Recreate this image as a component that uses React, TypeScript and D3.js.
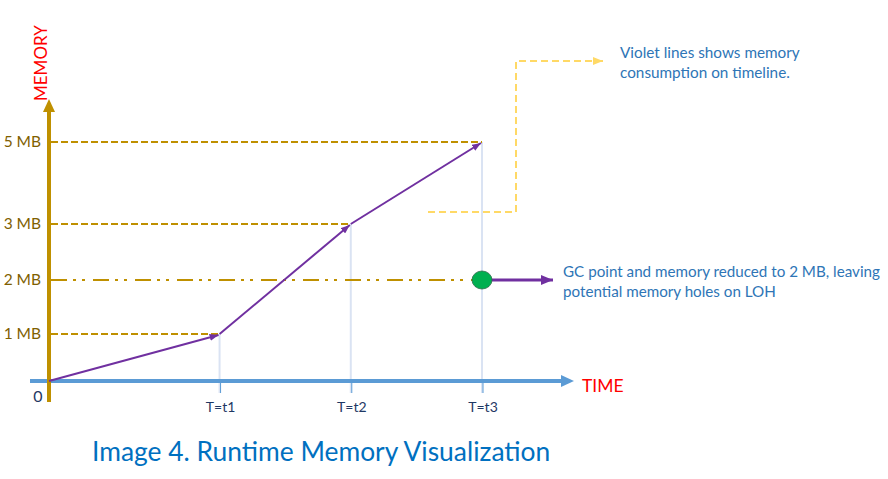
import { useEffect, useRef } from "react"
import * as d3 from "d3"

// time positions of the events (origin, t1, t2, t3)
const timePoints = [0, 1.3, 2.3, 3.3]
const timeLabels = ["T=t1", "T=t2", "T=t3"]
// memory at each event, in MB
const memoryMB = [0, 1, 3, 5]
const memTicks = [1, 2, 3, 5]
const memTickLabels = ["1 MB", "2 MB", "3 MB", "5 MB"]
const gcTime = 3.3
const gcMemory = 2

const noteLines = ["Violet lines shows memory", "consumption on timeline."]
const gcLines = ["GC point and memory reduced to 2 MB, leaving", "potential memory holes on LOH"]

const W = 888
const H = 479
const FONT = "Lato, 'Open Sans', sans-serif"

const App = () => {
  const svgRef = useRef<SVGSVGElement>(null)

  useEffect(() => {
    const svg = d3.select(svgRef.current)
    svg.selectAll("*").remove()

    const x = d3.scaleLinear().domain([0, 3.3]).range([49, 482])
    // the drawing isn't evenly spaced on the memory axis
    const y = d3.scaleLinear().domain([0, 1, 2, 3, 5]).range([381, 334, 280, 224, 142])

    const gold = "#BF9000"
    const purple = "#7030A0"
    const blue = "#5B9BD5"

    const defs = svg.append("defs")
    const marker = (id, color, w, h) =>
      defs
        .append("marker")
        .attr("id", id)
        .attr("markerUnits", "userSpaceOnUse")
        .attr("markerWidth", w)
        .attr("markerHeight", h)
        .attr("refX", w)
        .attr("refY", h / 2)
        .attr("orient", "auto")
        .append("path")
        .attr("d", `M0,0L${w},${h / 2}L0,${h}Z`)
        .attr("fill", color)
    marker("arr-purple", purple, 9, 7)
    marker("arr-purple-big", purple, 12, 10)
    marker("arr-yellow", "#FFD966", 10, 8)

    const x0 = x(0)
    const yAxisY = y(0)

    // drop lines from each point to the time axis
    memoryMB.slice(1).forEach((m, i) => {
      const t = timePoints[i + 1]
      svg
        .append("line")
        .attr("x1", x(t))
        .attr("x2", x(t))
        .attr("y1", y(m))
        .attr("y2", yAxisY + 12)
        .attr("stroke", "#DAE3F3")
        .attr("stroke-width", 2)
    })

    // dashed guides from the memory axis
    memoryMB.slice(1).forEach((m, i) => {
      svg
        .append("line")
        .attr("x1", x0 + 2)
        .attr("x2", x(timePoints[i + 1]))
        .attr("y1", y(m))
        .attr("y2", y(m))
        .attr("stroke", gold)
        .attr("stroke-width", 2)
        .attr("stroke-dasharray", "7,3")
    })

    // GC level, dash-dot-dot
    svg
      .append("line")
      .attr("x1", x0 + 2)
      .attr("x2", x(gcTime))
      .attr("y1", y(gcMemory))
      .attr("y2", y(gcMemory))
      .attr("stroke", gold)
      .attr("stroke-width", 2)
      .attr("stroke-dasharray", "16,6,3,6,3,8")

    // time axis
    svg
      .append("line")
      .attr("x1", 30)
      .attr("x2", 562)
      .attr("y1", yAxisY)
      .attr("y2", yAxisY)
      .attr("stroke", blue)
      .attr("stroke-width", 4)
    svg
      .append("path")
      .attr("d", `M561,${yAxisY - 6}L574,${yAxisY}L561,${yAxisY + 6}Z`)
      .attr("fill", blue)

    // ticks under the time axis
    timePoints.slice(1).forEach((t) => {
      svg
        .append("line")
        .attr("x1", x(t) + 1)
        .attr("x2", x(t) + 1)
        .attr("y1", yAxisY)
        .attr("y2", yAxisY + 12)
        .attr("stroke", blue)
        .attr("stroke-width", 1)
    })

    // memory axis
    svg
      .append("line")
      .attr("x1", x0)
      .attr("x2", x0)
      .attr("y1", 402)
      .attr("y2", 110)
      .attr("stroke", gold)
      .attr("stroke-width", 4)
    svg
      .append("path")
      .attr("d", `M${x0 - 6},112L${x0},99L${x0 + 6},112Z`)
      .attr("fill", gold)

    // memory consumption arrows
    d3.pairs(timePoints.map((t, i) => [x(t), y(memoryMB[i])])).forEach(([a, b]) => {
      svg
        .append("line")
        .attr("x1", a[0])
        .attr("y1", a[1])
        .attr("x2", b[0] - 1)
        .attr("y2", b[1] + 1)
        .attr("stroke", purple)
        .attr("stroke-width", 2)
        .attr("marker-end", "url(#arr-purple)")
    })

    // GC point
    svg
      .append("line")
      .attr("x1", x(gcTime))
      .attr("x2", 553)
      .attr("y1", y(gcMemory))
      .attr("y2", y(gcMemory))
      .attr("stroke", purple)
      .attr("stroke-width", 3)
      .attr("marker-end", "url(#arr-purple-big)")
    svg
      .append("ellipse")
      .attr("cx", x(gcTime))
      .attr("cy", y(gcMemory))
      .attr("rx", 10)
      .attr("ry", 9)
      .attr("fill", "#00B050")
      .attr("stroke", "#2F6B4A")
      .attr("stroke-width", 0.8)

    // callout connector for the note
    svg
      .append("path")
      .attr("d", "M428,212L516,212L516,61L603,61")
      .attr("fill", "none")
      .attr("stroke", "#FFD966")
      .attr("stroke-width", 2)
      .attr("stroke-dasharray", "7,4")
      .attr("marker-end", "url(#arr-yellow)")

    // labels
    svg
      .selectAll(".mem-label")
      .data(memTicks)
      .enter()
      .append("text")
      .attr("x", 41)
      .attr("y", (d) => y(d) + 5)
      .attr("text-anchor", "end")
      .style("font-family", FONT)
      .style("font-size", "15.5px")
      .attr("fill", "#7F6000")
      .text((d, i) => memTickLabels[i])

    svg
      .append("text")
      .attr("x", 38)
      .attr("y", 402)
      .attr("text-anchor", "middle")
      .style("font-family", FONT)
      .style("font-size", "16px")
      .attr("fill", "#1F3864")
      .text("0")

    svg
      .selectAll(".time-label")
      .data(timePoints.slice(1))
      .enter()
      .append("text")
      .attr("x", (d) => x(d) + 1)
      .attr("y", 412)
      .attr("text-anchor", "middle")
      .style("font-family", FONT)
      .style("font-size", "14px")
      .attr("fill", "#1F3864")
      .text((d, i) => timeLabels[i])

    svg
      .append("text")
      .attr("transform", "translate(47,101) rotate(-90)")
      .style("font-family", FONT)
      .style("font-size", "17px")
      .attr("fill", "#FF0000")
      .text("MEMORY")

    svg
      .append("text")
      .attr("x", 582)
      .attr("y", 392)
      .style("font-family", FONT)
      .style("font-size", "17.5px")
      .attr("fill", "#FF0000")
      .text("TIME")

    noteLines.forEach((line, i) => {
      svg
        .append("text")
        .attr("x", 620)
        .attr("y", 58 + i * 20)
        .style("font-family", FONT)
        .style("font-size", "15.3px")
        .attr("fill", "#2E75B6")
        .text(line)
    })

    gcLines.forEach((line, i) => {
      svg
        .append("text")
        .attr("x", 563)
        .attr("y", 277 + i * 20)
        .style("font-family", FONT)
        .style("font-size", "15.2px")
        .attr("fill", "#2E75B6")
        .text(line)
    })

    svg
      .append("text")
      .attr("x", 92)
      .attr("y", 461)
      .style("font-family", FONT)
      .style("font-size", "26.4px")
      .attr("fill", "#0070C0")
      .text("Image 4. Runtime Memory Visualization")
  }, [])

  return (
    <svg
      ref={svgRef}
      width={W}
      height={H}
      style={{ position: "absolute", left: 0, top: 0, background: "#fff" }}
    />
  )
}

export default App
